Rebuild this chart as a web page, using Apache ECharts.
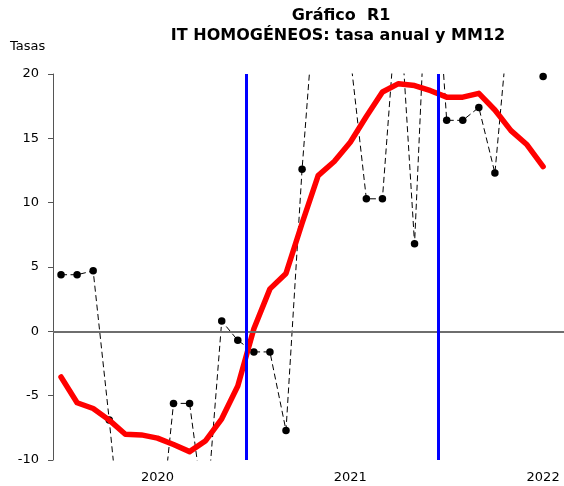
<!DOCTYPE html>
<html>
<head>
<meta charset="utf-8">
<script src="https://cdn.jsdelivr.net/npm/echarts@6/dist/echarts.min.js"></script>
<style>
html,body{margin:0;padding:0;background:#fff;}
#chart{width:564px;height:486px;}
</style>
</head>
<body>
<div id="chart"></div>
<script>
// Monthly observations (index 0..30)
const tasaAnual = [4.4, 4.4, 4.7, -6.9, -19.4, -21, -17.7, -5.6, -5.6, -15, 0.8, -0.7, -1.6, -1.6, -7.7, 12.6, 28.9, 25, 21.4, 10.3, 10.3, 27, 6.8, 35, 16.4, 16.4, 17.4, 12.3, 26, 28, 19.8];
const mm12 = [-3.55, -5.55, -6.0, -6.9, -8.0, -8.05, -8.3, -8.8, -9.35, -8.5, -6.8, -4.25, 0.2, 3.3, 4.5, 8.4, 12.1, 13.2, 14.7, 16.7, 18.6, 19.25, 19.1, 18.7, 18.2, 18.2, 18.5, 17.2, 15.6, 14.5, 12.8];
const yearLabels = ['2020', '2021', '2022'];
const yearLabelPos = [6, 18, 30];
const yearBreaks = [11.5, 23.5];

const FONT = 'DejaVu Sans';
const chart = echarts.init(document.getElementById('chart'), null, {renderer: 'canvas'});

const option = {
  animation: false,
  backgroundColor: '#ffffff',
  textStyle: {fontFamily: FONT},
  graphic: [
    {type: 'text', x: 341, y: 8, style: {text: 'Gráfico  R1', fontFamily: FONT, fontWeight: 'bold', fontSize: 16, fill: '#000', textAlign: 'center'}},
    {type: 'text', x: 338, y: 28, style: {text: 'IT HOMOGÉNEOS: tasa anual y MM12', fontFamily: FONT, fontWeight: 'bold', fontSize: 16, fill: '#000', textAlign: 'center'}},
    {type: 'text', x: 10, y: 40, style: {text: 'Tasas', fontFamily: FONT, fontSize: 13, fill: '#000'}}
  ],
  grid: {left: 53, right: 0, top: 74, bottom: 26, containLabel: false},
  xAxis: {
    type: 'value',
    min: -0.5,
    max: 31.3,
    axisLine: {show: false},
    axisTick: {show: false},
    splitLine: {show: false},
    axisLabel: {
      customValues: yearLabelPos,
      formatter: function (v) { const i = yearLabelPos.indexOf(v); return i >= 0 ? yearLabels[i] : ''; },
      color: '#000', fontSize: 13, fontFamily: FONT, margin: 11
    }
  },
  yAxis: {
    type: 'value',
    min: -10,
    max: 20,
    interval: 5,
    axisLine: {show: true, onZero: false, lineStyle: {color: '#555', width: 1}},
    axisTick: {show: true, inside: false, length: 5, lineStyle: {color: '#555'}},
    splitLine: {show: false},
    axisLabel: {color: '#000', fontSize: 13, fontFamily: FONT, margin: 14}
  },
  series: [
    {
      name: 'Tasa anual',
      type: 'line',
      data: tasaAnual.map((v, i) => [i, v]),
      symbol: 'circle',
      symbolSize: 7.5,
      itemStyle: {color: '#000'},
      lineStyle: {color: '#000', width: 1, type: [6, 3.5]},
      clip: true,
      z: 3,
      markLine: {
        silent: true,
        symbol: 'none',
        label: {show: false},
        lineStyle: {color: '#6e6e6e', width: 2, type: 'solid'},
        data: [{yAxis: 0}]
      }
    },
    {
      name: 'MM12',
      type: 'line',
      data: mm12.map((v, i) => [i, v]),
      symbol: 'none',
      lineStyle: {color: '#ff0000', width: 5.5, cap: 'round', join: 'round'},
      clip: true,
      z: 4,
      markLine: {
        silent: true,
        symbol: 'none',
        label: {show: false},
        lineStyle: {color: '#0000ff', width: 3, type: 'solid'},
        z: 6,
        data: yearBreaks.map(x => ({xAxis: x}))
      }
    }
  ]
};
chart.setOption(option);
</script>
</body>
</html>
